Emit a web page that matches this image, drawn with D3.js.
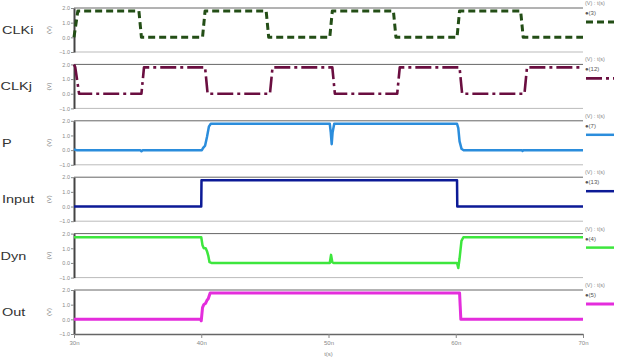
<!DOCTYPE html>
<html>
<head>
<meta charset="utf-8">
<script src="https://cdn.jsdelivr.net/npm/d3@7"></script>
<style>
  body { margin: 0; background: #fff; }
  svg { display: block; font-family: "Liberation Sans", Arial, sans-serif; }
  .tick text { fill: #888; }
</style>
</head>
<body>
<svg id="chart" width="617" height="364"></svg>
<script>
// time in ns, values in volts
const names = ["CLKi", "CLKj", "P", "Input", "Dyn", "Out"];
const legendIds = ["(3)", "(12)", "(7)", "(13)", "(4)", "(5)"];
const colors = ["#234e16", "#6a0e40", "#2b8ddc", "#0c1a96", "#3de63d", "#e42ddc"];
const dashes = ["7,4", "16,4,3,4", null, null, null, null];
const widths = [3, 2.6, 2.5, 2.5, 2.5, 3];

const clkiT = [30, 30.3, 35.1, 35.3, 40.1, 40.3, 45.1, 45.3, 50.1, 50.3, 55.1, 55.3, 60.1, 60.3, 65.1, 65.3, 70];
const clkiV = [0, 1.8, 1.8, 0, 0, 1.8, 1.8, 0, 0, 1.8, 1.8, 0, 0, 1.8, 1.8, 0, 0];

const clkjT = [30, 30.1, 30.4, 35.3, 35.5, 40.3, 40.5, 45.4, 45.6, 50.3, 50.5, 55.4, 55.6, 60.3, 60.5, 65.4, 65.6, 70];
const clkjV = [2.0, 1.8, 0, 0, 1.8, 1.8, 0, 0, 1.8, 1.8, 0, 0, 1.8, 1.8, 0, 0, 1.8, 1.8];

const pT = [30, 30.2, 30.4, 35.2, 35.3, 35.4, 40.05, 40.15, 40.3, 40.45, 40.6, 40.75, 50.1, 50.18, 50.25, 50.32, 50.45, 60.1, 60.2, 60.3, 60.45, 60.6, 65.2, 65.25, 65.3, 70];
const pV = [0.05, 0, 0, 0, -0.08, 0, 0, 0.15, 0.3, 0.9, 1.6, 1.8, 1.8, 1.2, 0.4, 1.2, 1.8, 1.8, 1.5, 0.6, 0.1, 0, 0, -0.06, 0, 0];

const inT = [30, 40.0, 40.02, 60.1, 60.12, 70];
const inV = [0, 0, 1.8, 1.8, 0, 0];

const dynT = [30, 40.0, 40.1, 40.2, 40.35, 40.45, 40.55, 40.65, 40.8, 50.1, 50.2, 50.3, 50.4, 60.1, 60.2, 60.3, 60.45, 60.6, 70];
const dynV = [1.75, 1.75, 1.2, 1.0, 1.0, 0.8, 0.5, 0.05, 0, 0, 0.55, 0.05, 0, 0, -0.35, 0.3, 1.5, 1.75, 1.75];

const outT = [30, 39.95, 40.0, 40.1, 40.2, 40.35, 40.45, 40.55, 40.7, 60.3, 60.35, 60.4, 70];
const outV = [0, 0, -0.1, 0.8, 1.0, 1.1, 1.3, 1.4, 1.8, 1.8, 0.9, 0, 0];

const series = [
  [clkiT, clkiV], [clkjT, clkjV], [pT, pV], [inT, inV], [dynT, dynV], [outT, outV]
];

const yTicks = [-1, 0, 1, 2];
const xTicks = [30, 40, 50, 60, 70];

const svg = d3.select("#chart");
const left = 74, right = 583;
const panelH = 44, panelStep = 56.4, firstTop = 8;

const x = d3.scaleLinear().domain([30, 70]).range([left, right]);

names.forEach((name, i) => {
  const top = firstTop + i * panelStep;
  const y = d3.scaleLinear().domain([-1, 2]).range([top + panelH, top]);
  const g = svg.append("g").attr("class", "panel");

  // frame lines
  g.append("line").attr("x1", left).attr("x2", right)
    .attr("y1", top).attr("y2", top).attr("stroke", "#666").attr("stroke-width", 1);
  if (i < names.length - 1) {
    g.append("line").attr("x1", left).attr("x2", right)
      .attr("y1", top + panelH).attr("y2", top + panelH).attr("stroke", "#bbb").attr("stroke-width", 1);
  }

  const ax = g.append("g")
    .attr("transform", "translate(" + left + ",0)")
    .call(d3.axisLeft(y).tickValues(yTicks).tickFormat(d3.format(".1f")).tickSize(3).tickSizeOuter(0));
  ax.select(".domain").attr("stroke", "#444").attr("stroke-width", 2);
  ax.selectAll(".tick line").attr("stroke", "#888");
  ax.selectAll(".tick text").attr("font-size", 5.5).attr("x", -4);

  g.append("text")
    .attr("transform", "translate(51," + (top + panelH / 2) + ") rotate(-90)")
    .attr("text-anchor", "middle").attr("font-size", 6).attr("fill", "#777")
    .text("(V)");

  // signal name
  g.append("text")
    .attr("transform", "translate(" + (i === 1 || i === 4 ? 0.5 : 2) + "," + (top + 26) + ") scale(1.45,1)")
    .attr("font-size", 10).attr("fill", "#333")
    .text(name);

  const [ts, vs] = series[i];
  const pts = ts.map((t, k) => [t, vs[k]]);
  g.append("path")
    .datum(pts)
    .attr("fill", "none")
    .attr("stroke", colors[i])
    .attr("stroke-width", widths[i])
    .attr("stroke-dasharray", dashes[i])
    .attr("stroke-linejoin", "round")
    .attr("d", d3.line().x(d => x(d[0])).y(d => y(d[1])));

  // legend
  const lg = g.append("g").attr("transform", "translate(585," + top + ")");
  lg.append("text").attr("y", -3).attr("font-size", 5.5).attr("fill", "#888").text("(V) : t(s)");
  lg.append("text").attr("y", 7).attr("font-size", 6).attr("fill", "#555").text("\u25CF" + legendIds[i]);
  lg.append("line").attr("x1", 1).attr("x2", 29).attr("y1", 14).attr("y2", 14)
    .attr("stroke", colors[i]).attr("stroke-width", widths[i])
    .attr("stroke-dasharray", dashes[i]);
});

// time axis
const lastBottom = firstTop + (names.length - 1) * panelStep + panelH;
const xa = svg.append("g")
  .attr("transform", "translate(0," + lastBottom + ")")
  .call(d3.axisBottom(x).tickValues(xTicks).tickFormat(d => d + "n").tickSize(4).tickSizeOuter(0));
xa.select(".domain").attr("stroke", "#666").attr("stroke-width", 1.5);
xa.selectAll(".tick line").attr("stroke", "#888");
xa.selectAll(".tick text").attr("font-size", 6).attr("y", 7);

svg.append("text").attr("x", x(50)).attr("y", 356)
  .attr("text-anchor", "middle").attr("font-size", 6).attr("fill", "#888").text("t(s)");
</script>
</body>
</html>
